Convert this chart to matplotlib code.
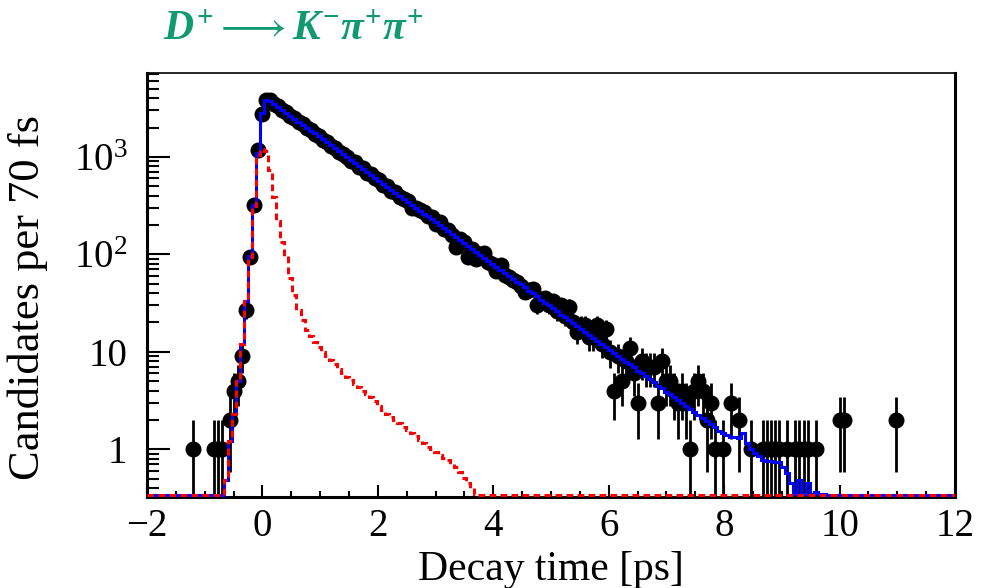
import numpy as np
import matplotlib
matplotlib.use('Agg')
import matplotlib.pyplot as plt
from matplotlib.ticker import FixedLocator, FixedFormatter, LogLocator, NullFormatter, MultipleLocator

plt.rcParams['font.family'] = ['Liberation Serif', 'DejaVu Serif']
plt.rcParams['mathtext.fontset'] = 'custom'
plt.rcParams['mathtext.rm'] = 'Liberation Serif:bold'
plt.rcParams['mathtext.it'] = 'Liberation Serif:italic:bold'
plt.rcParams['mathtext.bf'] = 'Liberation Serif:bold'

# binning: 70 fs bins from -2 to 12 ps
t_min = -2.0
bin_width = 0.07
n_bins = 200

# observed candidates per bin (0 = empty bin, not drawn)
counts = ([0] * 10 +
          [0, 1, 0, 0, 0, 0, 1, 1, 1, 0,
           2, 4, 5, 9, 27, 94, 318, 1167, 2775, 3800,
           3800, 3480, 3300, 3000, 2870, 2600, 2500, 2260, 2150, 1960,
           1890, 1700, 1640, 1480, 1430, 1290, 1240, 1120, 1070, 1000,
           910, 880, 790, 760, 690, 660, 600, 575, 520, 500,
           450, 435, 387, 365, 350, 300, 296, 285, 270, 250,
           241, 205, 214, 182, 176, 158, 119, 142, 134, 94,
           112, 90, 101, 102, 83, 79, 68, 77, 62, 58,
           55, 52, 47, 41, 43, 44, 30, 35, 36, 30,
           33, 26, 30, 23, 29, 20, 16, 19, 19, 14,
           14, 19, 12, 17, 10, 4, 9, 5, 8, 11,
           6, 3, 8, 7, 7, 7, 3, 8, 5, 5,
           4, 3, 4, 3, 1, 4, 5, 4, 2, 3,
           1, 0, 1, 0, 3, 0, 2, 0, 0, 1,
           0, 0, 1, 1, 1, 1, 1, 0, 1, 0,
           1, 1, 1, 1, 0, 1, 0, 0, 0, 0,
           0, 2, 2, 0, 0, 0, 0, 0, 0, 0,
           0, 0, 0, 0, 0, 2, 0, 0, 0, 0] +
          [0] * 10)

# total fit (blue histogram)
fit_total = ([0.0] * 19 +
             [0.48, 1.2, 2.3, 5.0, 12, 33, 95, 320, 1100, 2800, 3850,
              3750, 3496, 3260, 3039, 2834, 2642, 2464, 2297, 2142, 1997,
              1862, 1736, 1619, 1509, 1407, 1312, 1223, 1141, 1064, 992,
              925, 862, 804, 750, 699, 652, 608, 567, 528, 493,
              459, 428, 399, 372, 347, 324, 302, 281, 262, 245,
              228, 213, 198, 185, 172, 161, 150, 140, 130, 121,
              113, 106, 98, 92, 86, 80, 74, 69, 65, 60,
              56, 52, 49, 46, 42, 40, 37, 34, 32, 30,
              28, 26, 24, 22.6, 21.1, 19.7, 18.3, 17.1, 15.9, 14.9,
              13.9, 12.9, 12.1, 11.2, 10.5, 9.8, 9.1, 8.5, 7.9, 7.4,
              6.9, 6.4, 6.0, 5.6, 5.2, 4.9, 4.5, 4.2, 3.9, 3.7,
              3.4, 3.2, 3.0, 2.8, 2.6, 2.4, 2.25, 2.1, 1.95, 1.82,
              1.70, 1.55, 1.45, 1.40, 1.34, 1.34, 1.30, 1.45, 1.15, 1.0,
              0.91, 0.85, 0.77, 0.76, 0.75, 0.74, 0.74, 0.66, 0.57, 0.45,
              0.35, 0.48, 0.35, 0.45, 0.35, 0.36, 0.35, 0.35, 0.34] +
             [0.0] * 31)

# red dashed component
fit_red = ([0.0] * 19 +
           [0.48, 1.2, 2.3, 5.0, 12, 33, 93, 310, 1050, 1200, 1150,
            730, 390, 222, 135, 95, 57, 38, 27, 21, 16.6,
            14.5, 12.5, 11.2, 10, 9, 8.2, 7.4, 6.6, 6.0, 5.5,
            5.1, 4.7, 4.3, 4.0, 3.7, 3.4, 3.1, 2.8, 2.55, 2.3,
            2.15, 2.0, 1.85, 1.7, 1.57, 1.45, 1.35, 1.25, 1.15, 1.06,
            1.0, 0.93, 0.87, 0.82, 0.77, 0.71, 0.65, 0.58, 0.51, 0.45,
            0.40, 0.35] +
           [0.0] * 118)

counts = np.array(counts, dtype=float)
fit_total = np.array(fit_total)
fit_red = np.array(fit_red)

edges = t_min + bin_width * np.arange(n_bins + 1)
centers = edges[:-1] + bin_width / 2

y_lo, y_hi = 0.323, 7250
floor = 0.335

fig = plt.figure(figsize=(9.91, 5.88), dpi=100)
ax = fig.add_axes([147 / 991, 91 / 588, 808 / 991, 424 / 588])

m = counts > 0
err = np.sqrt(counts[m])
lower = np.minimum(err, counts[m] - 0.2)
ax.errorbar(centers[m], counts[m], yerr=[lower, err], fmt='o', color='black',
            ms=10.5, elinewidth=2.0, capsize=0, zorder=2)

ax.stairs(np.maximum(fit_total, floor), edges, color='blue', lw=2.2,
          baseline=None, zorder=3)
ax.stairs(np.maximum(fit_red, floor), edges, color='red', lw=2.2,
          linestyle=(0, (2.2, 1.4)), baseline=None, zorder=4)

ax.set_yscale('log')
ax.set_xlim(-2, 12)
ax.set_ylim(y_lo, y_hi)

ax.xaxis.set_major_locator(MultipleLocator(2))
ax.xaxis.set_minor_locator(MultipleLocator(0.5))
ax.yaxis.set_major_locator(FixedLocator([1, 10, 100, 1000]))
ax.yaxis.set_major_formatter(FixedFormatter(['1', '10', r'$\mathregular{10^{2}}$',
                                             r'$\mathregular{10^{3}}$']))
ax.yaxis.set_minor_locator(LogLocator(base=10, subs=np.arange(2, 10)))
ax.yaxis.set_minor_formatter(NullFormatter())

ax.tick_params(axis='both', which='both', direction='in', top=False, right=False,
               width=1.5, labelsize=28)
ax.tick_params(axis='x', which='major', length=8.6, pad=8)
ax.tick_params(axis='x', which='minor', length=4.3)
ax.tick_params(axis='y', which='major', length=16.5, pad=14)
ax.tick_params(axis='y', which='minor', length=8.6)

for side in ['left', 'bottom', 'right']:
    ax.spines[side].set_linewidth(2.2)
ax.spines['top'].set_linewidth(1.2)

ax.set_xlabel('Decay time [ps]', fontsize=30, labelpad=4)
ax.set_ylabel('Candidates per 70 fs', fontsize=32)
ax.yaxis.set_label_coords(-0.122, 0.47)

fig.text(163 / 991, 1 - 40 / 588, r'$D^{+}\longrightarrow K^{-}\pi^{+}\pi^{+}$',
         color='#109a70', fontsize=30, ha='left', va='baseline')

fig.savefig('out.png', dpi=100)
